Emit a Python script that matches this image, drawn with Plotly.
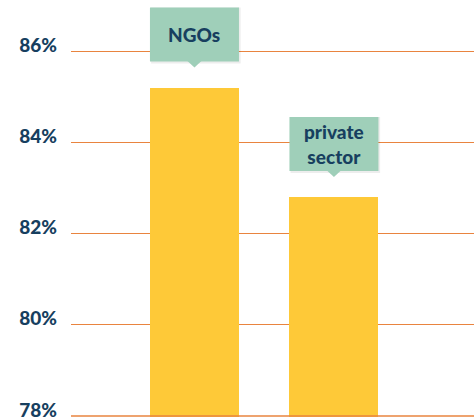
import plotly.graph_objects as go

categories = ["NGOs", "private sector"]
label_texts = ["NGOs", "private<br>sector"]
values = [85.2, 82.8]
tick_values = [78, 80, 82, 84, 86]
tick_labels = ["78%", "80%", "82%", "84%", "86%"]

NAVY = "#173f5f"
BAR = "#fec938"
BOX = "#9fcfb9"
GRID = "#e9843f"
FONT = "Lato"
bar_w = 0.638

fig = go.Figure()
fig.add_trace(go.Bar(
    x=categories, y=values, width=bar_w,
    marker=dict(color=BAR, line=dict(width=0)),
    hoverinfo="skip", showlegend=False,
))

shapes = []
annotations = []
# baseline gridline (the axis drops grid lines lying on the plot edge)
shapes.append(dict(type="line", xref="paper", yref="y", x0=0, x1=1, y0=tick_values[0], y1=tick_values[0],
                   line=dict(color=GRID, width=1.5), layer="above"))
for i, (cat, v, txt) in enumerate(zip(categories, values, label_texts)):
    # soft shadow
    shapes.append(dict(type="rect", xref="x", yref="y", ysizemode="pixel", yanchor=v,
                       x0=i - bar_w / 2 + 0.008, x1=i + bar_w / 2 + 0.012, y0=24, y1=80,
                       fillcolor="rgba(0,0,0,0.07)", line=dict(width=0), layer="above"))
    shapes.append(dict(type="rect", xref="x", yref="y", ysizemode="pixel", yanchor=v,
                       x0=i - bar_w / 2, x1=i + bar_w / 2, y0=26, y1=80,
                       fillcolor=BOX, line=dict(width=0), layer="above"))
    shapes.append(dict(type="path", xref="x", yref="y", xsizemode="pixel", ysizemode="pixel",
                       xanchor=i, yanchor=v,
                       path="M -7,26.5 L 7,26.5 L 0,20 Z",
                       fillcolor=BOX, line=dict(width=0), layer="above"))
    annotations.append(dict(x=i, y=v, xref="x", yref="y", text=txt, showarrow=False,
                            yshift=53, xanchor="center", yanchor="middle",
                            font=dict(family=FONT, size=19, color=NAVY, weight=900)))

fig.update_layout(
    width=474, height=420,
    margin=dict(l=71, r=0, t=0, b=3, autoexpand=False),
    paper_bgcolor="white", plot_bgcolor="white",
    bargap=0,
    shapes=shapes,
    annotations=annotations,
    xaxis=dict(type="category", range=[-0.885, 2.004], showticklabels=False, automargin=False,
               showgrid=False, zeroline=False, showline=False, ticks=""),
    yaxis=dict(range=[77.98, 87.118], tickvals=tick_values, ticktext=tick_labels, automargin=False,
               showgrid=True, gridcolor=GRID, gridwidth=1, zeroline=False, showline=False,
               ticks="", ticklabelstandoff=13, ticklabelshift=-6, ticklabeloverflow="allow",
               tickfont=dict(family=FONT, size=19, color=NAVY, weight=900)),
)

fig.write_html("out.html", config={"displayModeBar": False},
               post_script="document.body.style.margin='0';")
